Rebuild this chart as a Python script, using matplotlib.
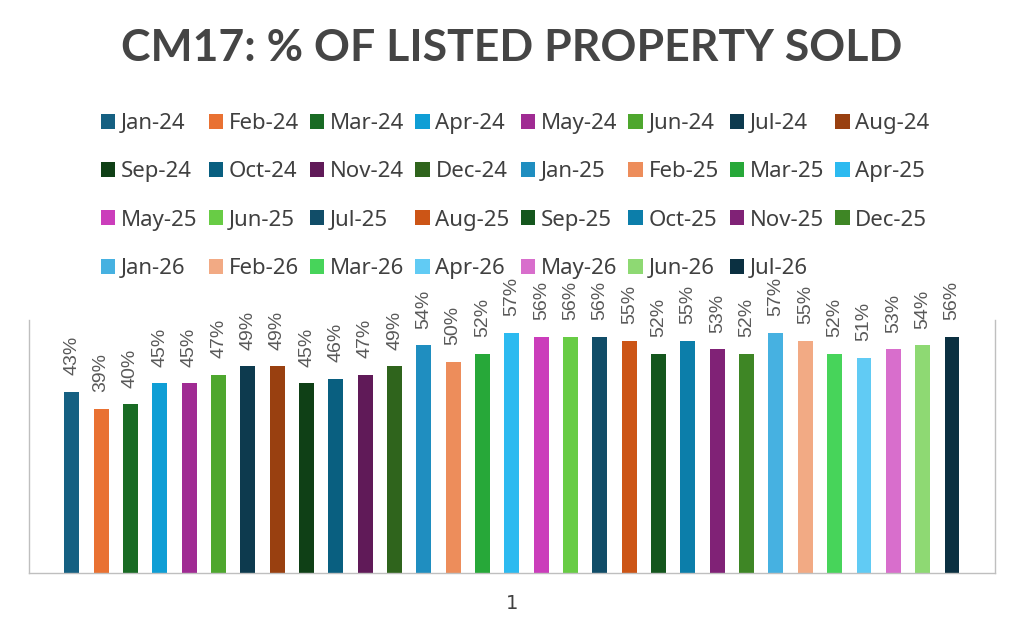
import numpy as np
import matplotlib.pyplot as plt
import colorsys

months = ['Jan-24', 'Feb-24', 'Mar-24', 'Apr-24', 'May-24', 'Jun-24', 'Jul-24', 'Aug-24',
          'Sep-24', 'Oct-24', 'Nov-24', 'Dec-24', 'Jan-25', 'Feb-25', 'Mar-25', 'Apr-25',
          'May-25', 'Jun-25', 'Jul-25', 'Aug-25', 'Sep-25', 'Oct-25', 'Nov-25', 'Dec-25',
          'Jan-26', 'Feb-26', 'Mar-26', 'Apr-26', 'May-26', 'Jun-26', 'Jul-26']
pct_sold = [43, 39, 40, 45, 45, 47, 49, 49, 45, 46, 47, 49, 54, 50, 52, 57,
            56, 56, 56, 55, 52, 55, 53, 52, 57, 55, 52, 51, 53, 54, 56]
category = '1'

# office theme accents, then the darker / lighter variants excel cycles through
accents = ['#156082', '#E97132', '#196B24', '#0F9ED5', '#A02B93', '#4EA72E']
variants = [(1.0, 0.0), (0.6, 0.0), (0.8, 0.2), (0.8, 0.0), (0.6, 0.4), (0.5, 0.0)]


def shade(hexcol, mod, off):
    r, g, b = [int(hexcol[i:i + 2], 16) / 255 for i in (1, 3, 5)]
    h, l, s = colorsys.rgb_to_hls(r, g, b)
    l = min(1.0, l * mod + off)
    return colorsys.hls_to_rgb(h, l, s)


colors = [shade(accents[i % 6], *variants[i // 6]) for i in range(len(months))]

fig = plt.figure(figsize=(10.24, 6.32), dpi=100)
ax = fig.add_axes([0.0283, 0.0934, 0.9434, 0.4003])

x = np.arange(len(months))
handles = []
for i in range(len(months)):
    b = ax.bar(x[i], pct_sold[i], width=0.51, color=colors[i], label=months[i])
    handles.append(b)
    ax.bar_label(b, labels=[f'{pct_sold[i]}%'], rotation=90, padding=12,
                 fontsize=14, color='#595959', family='Liberation Sans')

ax.set_xlim(-1.46, len(months) - 1 + 1.466)
ax.set_ylim(0, 60)
ax.set_yticks([])
ax.set_xticks([(len(months) - 1) / 2], [category])
ax.tick_params(axis='x', length=0, pad=15, labelsize=14, labelcolor='#404040')
ax.spines['top'].set_visible(False)
for s in ['left', 'right', 'bottom']:
    ax.spines[s].set_color('#bfbfbf')
    ax.spines[s].set_linewidth(1)

# legend fills column by column, so reorder to read row by row like excel
ncol = 8
order = [r * ncol + c for c in range(ncol) for r in range(4) if r * ncol + c < len(months)]
fig.legend([handles[i] for i in order], [months[i] for i in order],
           loc='upper left', bbox_to_anchor=(101 / 1024, 1 - 113 / 632), ncol=ncol,
           frameon=False, handlelength=0.65, handleheight=0.65,
           handletextpad=0.25, columnspacing=0.5, labelspacing=1.23,
           borderpad=0, borderaxespad=0, labelcolor='#404040',
           prop={'family': 'Noto Sans', 'size': 16})

fig.text(0.5, 1 - 48 / 632, 'CM17: % OF LISTED PROPERTY SOLD', ha='center', va='center',
         fontsize=32, fontweight='bold', color='#454545', family='Lato')

fig.savefig('out.png', dpi=100)
